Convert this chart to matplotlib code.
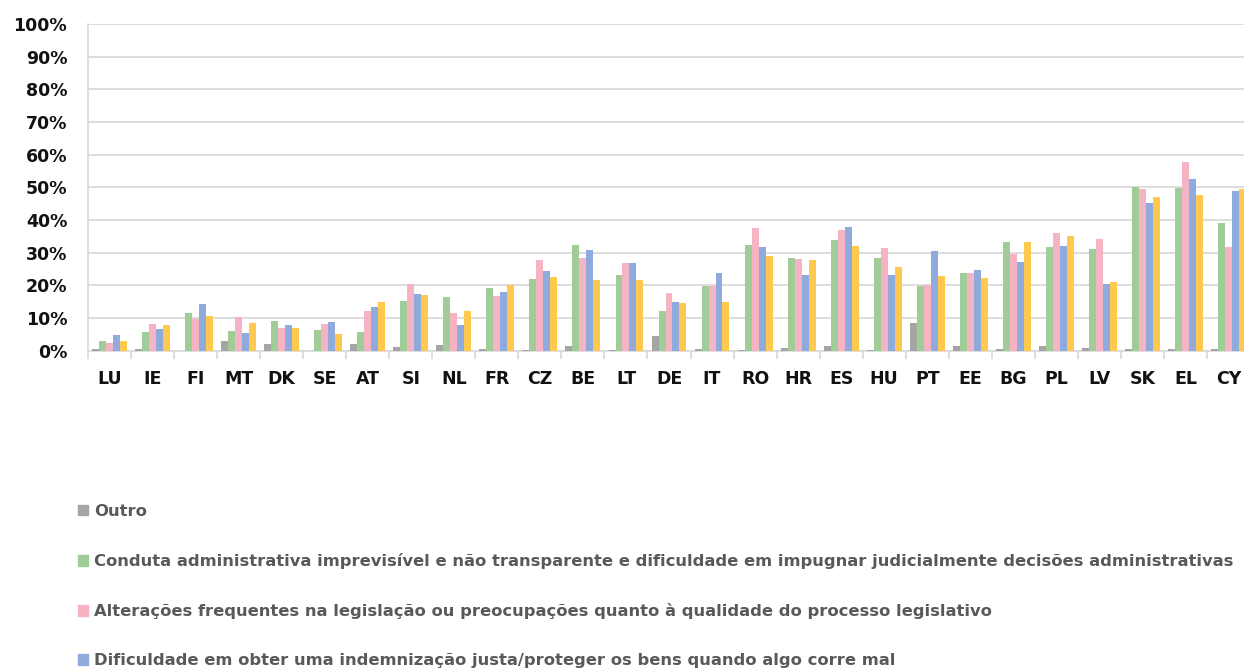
import numpy as np
import matplotlib.pyplot as plt
from matplotlib.ticker import PercentFormatter, FixedLocator
from matplotlib.patches import Patch

paises = ["LU", "IE", "FI", "MT", "DK", "SE", "AT", "SI", "NL", "FR", "CZ", "BE", "LT", "DE",
          "IT", "RO", "HR", "ES", "HU", "PT", "EE", "BG", "PL", "LV", "SK", "EL", "CY"]

outro = [0.4, 0.4, 0.0, 3.1, 2.0, 0.0, 2.0, 1.0, 1.7, 0.6, 0.3, 1.3, 0.3, 4.4,
         0.6, 0.2, 0.9, 1.5, 0.2, 8.5, 1.5, 0.5, 1.5, 0.9, 0.5, 0.5, 0.5]
conduta = [3.1, 5.8, 11.6, 6.1, 9.2, 6.4, 5.8, 15.3, 16.4, 19.2, 21.9, 32.4, 23.3, 12.2,
           19.9, 32.3, 28.3, 33.8, 28.3, 19.9, 23.8, 33.4, 31.6, 31.0, 50.1, 49.9, 39.2]
alteracoes = [2.3, 8.2, 9.6, 10.2, 6.8, 8.2, 12.2, 20.5, 11.5, 16.7, 27.8, 28.4, 26.9, 17.8,
              19.9, 37.5, 28.0, 36.8, 31.3, 20.0, 23.8, 29.7, 36.1, 34.1, 49.4, 57.7, 31.6]
dificuldade = [4.8, 6.5, 14.4, 5.4, 7.9, 8.9, 13.3, 17.4, 7.9, 18.1, 24.3, 30.8, 26.9, 15.0,
               23.9, 31.6, 23.2, 37.8, 23.2, 30.6, 24.8, 27.2, 32.0, 20.4, 45.1, 52.6, 48.8]
quinta = [3.1, 7.9, 10.6, 8.6, 6.8, 5.1, 15.0, 17.0, 12.2, 20.1, 22.6, 21.5, 21.5, 14.7,
          15.0, 29.0, 27.7, 32.0, 25.5, 22.9, 22.4, 33.4, 35.1, 21.1, 47.0, 47.8, 49.4]

series = [outro, conduta, alteracoes, dificuldade, quinta]
cores = ["#A5A5A5", "#A0CC98", "#F5B3C3", "#8FAADC", "#FFC84E"]
legendas = [
    "Outro",
    "Conduta administrativa imprevisível e não transparente e dificuldade em impugnar judicialmente decisões administrativas",
    "Alterações frequentes na legislação ou preocupações quanto à qualidade do processo legislativo",
    "Dificuldade em obter uma indemnização justa/proteger os bens quando algo corre mal",
]

fig = plt.figure(figsize=(12.44, 6.69), dpi=100)
ax = fig.add_axes([88 / 1244, 318.3 / 669, 1162 / 1244, 326.7 / 669])

x = np.arange(len(paises))
largura = 0.162
for i, (valores, cor) in enumerate(zip(series, cores)):
    ax.bar(x + (i - 2) * largura, np.array(valores) / 100, largura, color=cor, zorder=3)

ax.set_xlim(-0.5, len(paises) - 0.5)
ax.set_ylim(0, 1)
ax.set_yticks(np.arange(0, 1.01, 0.1))
ax.yaxis.set_major_formatter(PercentFormatter(1.0, decimals=0))
ax.grid(axis="y", color="#DADADA", linewidth=1.3, zorder=0)

ax.set_xticks(x)
ax.set_xticklabels(paises)
ax.xaxis.set_minor_locator(FixedLocator(np.arange(-0.5, len(paises), 1)))
ax.tick_params(axis="x", which="major", length=0, pad=14, labelsize=12.5)
ax.tick_params(axis="x", which="minor", length=6, color="#D9D9D9", width=1.2)
ax.tick_params(axis="y", length=0, pad=15, labelsize=12.5)
for lbl in ax.get_xticklabels() + ax.get_yticklabels():
    lbl.set_fontweight("semibold")
    lbl.set_color("#111111")

for lado in ["top", "right"]:
    ax.spines[lado].set_visible(False)
ax.spines["left"].set_color("#D9D9D9")
ax.spines["bottom"].set_color("#D9D9D9")
ax.spines["left"].set_linewidth(1.2)
ax.spines["bottom"].set_linewidth(1.2)

handles = [Patch(color=c) for c in cores[:4]]
leg = fig.legend(handles, legendas, loc="upper left", bbox_to_anchor=(78 / 1244, 1 - 504 / 669),
                 frameon=False, fontsize=11.8, labelspacing=2.08, handlelength=0.6,
                 handleheight=0.6, handletextpad=0.4, borderaxespad=0, borderpad=0)
for t in leg.get_texts():
    t.set_color("#595959")
    t.set_fontweight("semibold")

fig.savefig("out.png", dpi=100)
